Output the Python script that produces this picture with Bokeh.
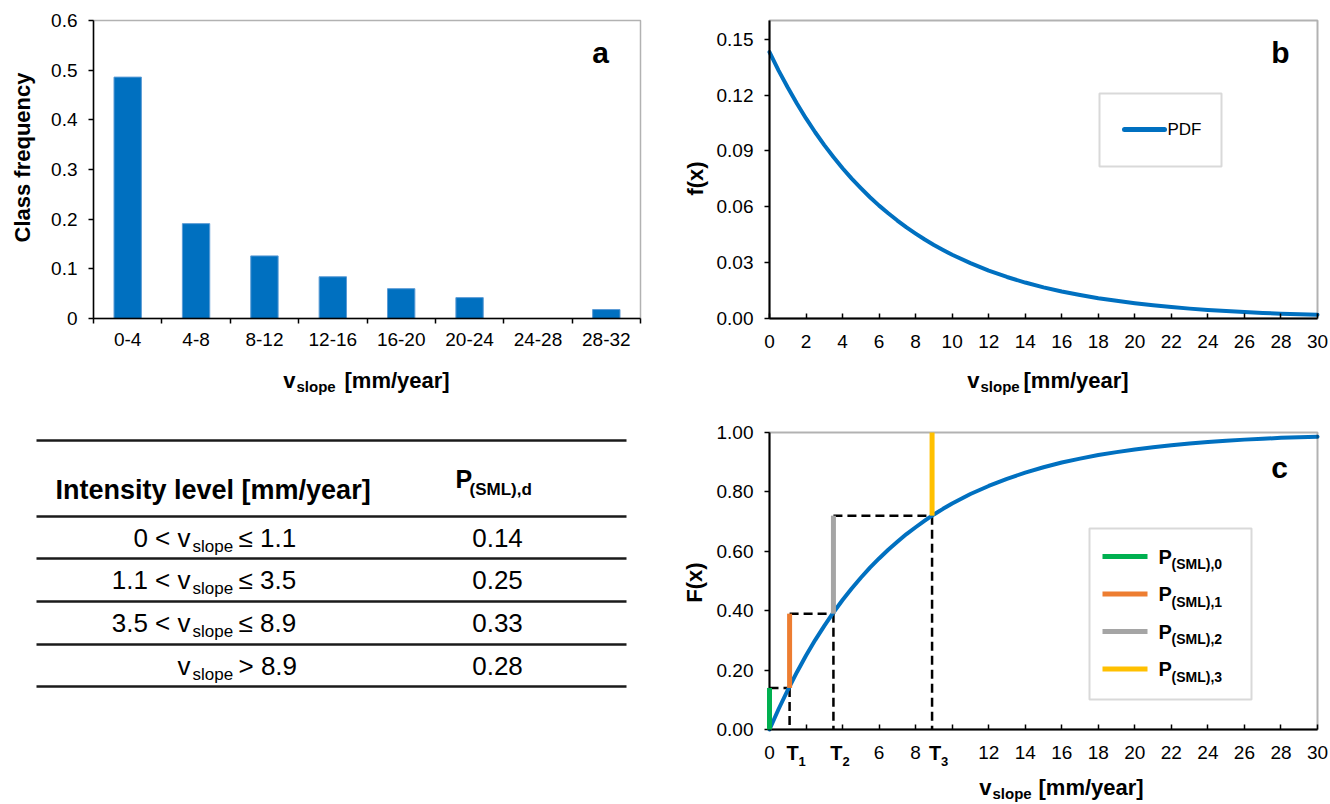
import numpy as np
from bokeh.plotting import figure
from bokeh.layouts import column, row
from bokeh.models import (ColumnDataSource, Range1d, FixedTicker, NumeralTickFormatter,
                          CustomJSTickFormatter, Label, BoxAnnotation)
from bokeh.core.properties import value
from bokeh.embed import file_html
from bokeh.resources import INLINE

FONT = "Liberation Sans"

# ------------------------------------------------------------------ data
classes = ["0-4", "4-8", "8-12", "12-16", "16-20", "20-24", "24-28", "28-32"]
class_freq = [0.486, 0.191, 0.126, 0.084, 0.060, 0.042, 0.0, 0.018]

v_grid = [0, 0.5, 1, 1.5, 2, 2.5, 3, 3.5, 4, 4.5, 5, 5.5, 6, 6.5, 7, 7.5, 8, 8.5,
          9, 9.5, 10, 11, 12, 13, 14, 15, 16, 17, 18, 19, 20, 21, 22, 23, 24, 25,
          26, 27, 28, 29, 30]
pdf_vals = [0.1430, 0.1331, 0.1240, 0.1154, 0.1074, 0.1000, 0.0931, 0.0867, 0.0807,
            0.0751, 0.0700, 0.0651, 0.0606, 0.0565, 0.0526, 0.0489, 0.0456, 0.0424,
            0.0395, 0.0368, 0.0342, 0.0297, 0.0257, 0.0223, 0.0193, 0.0167, 0.0145,
            0.0126, 0.0109, 0.0095, 0.0082, 0.0071, 0.0062, 0.0053, 0.0046, 0.0040,
            0.0035, 0.0030, 0.0026, 0.0023, 0.0020]
cdf_vals = [0.0, 0.069, 0.133, 0.193, 0.249, 0.301, 0.349, 0.394, 0.436, 0.475,
            0.511, 0.545, 0.576, 0.605, 0.632, 0.658, 0.681, 0.703, 0.724, 0.743,
            0.761, 0.793, 0.820, 0.844, 0.865, 0.883, 0.899, 0.912, 0.924, 0.934,
            0.943, 0.950, 0.957, 0.963, 0.968, 0.972, 0.976, 0.979, 0.982, 0.984,
            0.986]

level_lo = ["0 <", "1.1 <", "3.5 <", ""]
level_hi = ["\u2264 1.1", "\u2264 3.5", "\u2264 8.9", "> 8.9"]
p_sml = [0.14, 0.25, 0.33, 0.28]
thresholds = [0.0, 1.1, 3.5, 8.9]
threshold_names = ["", "1", "2", "3"]
p_colors = ["#00B050", "#ED7D31", "#A5A5A5", "#FFC000"]
p_subs = ["(SML),0", "(SML),1", "(SML),2", "(SML),3"]

freq_ticks = [0, 0.1, 0.2, 0.3, 0.4, 0.5, 0.6]
pdf_yticks = [0, 0.03, 0.06, 0.09, 0.12, 0.15]
cdf_yticks = [0, 0.2, 0.4, 0.6, 0.8, 1.0]
v_ticks = list(range(0, 31, 2))
cdf_hidden_ticks = [2, 4, 10]

BLUE = "#0070C0"
TICK_FS = "19px"


# ------------------------------------------------------------------ helpers
class Panel:
    """A figure whose frame fills the whole canvas; the plot area is the
    rectangle (left, top, w, h) in page pixels showing ranges xr, yr."""

    def __init__(self, fx, fy, W, H, left, top, w, h, xr, yr):
        self.fx, self.fy, self.W, self.H = fx, fy, W, H
        self.left, self.top, self.w, self.h = left, top, w, h
        self.xr, self.yr = xr, yr

    def x(self, px):
        return self.xr[0] + (px - self.left) / self.w * (self.xr[1] - self.xr[0])

    def y(self, py):
        return self.yr[0] + (self.top + self.h - py) / self.h * (self.yr[1] - self.yr[0])

    def make(self, box_width=2.0):
        p = figure(width=self.W, height=self.H,
                   x_range=Range1d(self.x(self.fx), self.x(self.fx + self.W)),
                   y_range=Range1d(self.y(self.fy + self.H), self.y(self.fy)),
                   output_backend="svg", toolbar_location=None,
                   min_border_left=0, min_border_right=0, min_border_top=0,
                   min_border_bottom=0)
        p.outline_line_color = None
        p.xgrid.visible = False
        p.ygrid.visible = False
        for ax in (p.xaxis[0], p.yaxis[0]):
            ax.axis_line_color = "black"
            ax.axis_line_width = box_width
            ax.major_tick_line_color = "black"
            ax.major_tick_line_width = 1.5
            ax.minor_tick_line_color = None
            ax.major_label_text_font = FONT
            ax.major_label_text_font_size = TICK_FS
            ax.major_label_text_color = "black"
        xa, ya = p.xaxis[0], p.yaxis[0]
        xa.fixed_location = self.yr[0]
        xa.bounds = tuple(self.xr)
        ya.fixed_location = self.xr[0]
        ya.bounds = tuple(self.yr)
        ya.major_tick_out = 5
        ya.major_tick_in = 0
        ya.major_label_standoff = 11
        p.add_layout(BoxAnnotation(left=self.xr[0], right=self.xr[1],
                                   bottom=self.yr[0], top=self.yr[1],
                                   fill_color=None, line_color="black",
                                   line_width=box_width))
        return p


def lab(p, x, y, text, size, bold=False, align="left", angle=0.0):
    # y is the vertical middle of the text
    p.add_layout(Label(x=x, y=y, text=text, text_font=FONT,
                       text_font_size=f"{size}px",
                       text_font_style="bold" if bold else "normal",
                       text_align=align, text_baseline="middle", angle=angle,
                       text_color="black"))


def v_title(p, P, x_v_right, x_unit_left, mid):
    lab(p, P.x(x_v_right), P.y(mid), "v", 22, bold=True, align="right")
    lab(p, P.x(x_v_right + 1), P.y(mid + 6), "slope", 15, bold=True)
    lab(p, P.x(x_unit_left), P.y(mid), "[mm/year]", 22, bold=True)


def y_title(p, P, text, cx, cy):
    lab(p, P.x(cx), P.y(cy), text, 22, bold=True, align="center", angle=np.pi / 2)


# ------------------------------------------------------------------ panel a
PA = Panel(0, 0, 660, 398, 93, 20, 547, 298, (0, len(classes)), (0, 0.6))
pa = PA.make(box_width=1.5)
centers = [i + 0.5 for i in range(len(classes))]
pa.vbar(x=centers, top=class_freq, width=0.4, fill_color=BLUE,
        line_color="#5b9bd5", line_width=1)
xa = pa.xaxis[0]
xa.ticker = FixedTicker(ticks=centers, minor_ticks=list(range(len(classes) + 1)))
xa.major_label_overrides = {c: name for c, name in zip(centers, classes)}
xa.major_tick_out = 0
xa.major_tick_in = 0
xa.minor_tick_line_color = "black"
xa.minor_tick_line_width = 1.5
xa.minor_tick_out = 5
xa.minor_tick_in = 0
xa.major_label_standoff = 9
ya = pa.yaxis[0]
ya.ticker = FixedTicker(ticks=freq_ticks)
ya.formatter = CustomJSTickFormatter(code="return tick == 0 ? '0' : tick.toFixed(1);")
y_title(pa, PA, "Class frequency", 22, 157)
v_title(pa, PA, 295, 344, 380)
lab(pa, PA.x(600), PA.y(52), "a", 30, bold=True, align="center")

# ------------------------------------------------------------------ panel b
PB = Panel(660, 0, 668, 398, 769, 20, 548, 298, (0, 30), (0, 0.16))
pb = PB.make()
pb.line(v_grid, pdf_vals, line_color=BLUE, line_width=4, line_cap="round",
        line_join="round")
xb = pb.xaxis[0]
xb.ticker = FixedTicker(ticks=v_ticks)
xb.major_tick_in = 5
xb.major_tick_out = 0
xb.major_label_standoff = 16
yb = pb.yaxis[0]
yb.ticker = FixedTicker(ticks=pdf_yticks)
yb.formatter = NumeralTickFormatter(format="0.00")
y_title(pb, PB, "f(x)", 695, 178)
v_title(pb, PB, 979, 1023, 380)
lab(pb, PB.x(1280), PB.y(52), "b", 30, bold=True, align="center")
pb.add_layout(BoxAnnotation(left=PB.x(1099), right=PB.x(1221), top=PB.y(93),
                            bottom=PB.y(166), fill_color=None,
                            line_color="#808080", line_width=2))
pb.segment(x0=[PB.x(1124)], y0=[PB.y(129)], x1=[PB.x(1164)], y1=[PB.y(129)],
           line_color=BLUE, line_width=5, line_cap="round")
lab(pb, PB.x(1167), PB.y(129), "PDF", 17)

# ------------------------------------------------------------------ panel c
PC = Panel(660, 398, 668, 404, 769, 432, 548, 297, (0, 30), (0, 1.0))
pc = PC.make()
cum = [round(c, 4) for c in np.cumsum(p_sml)]
hx0 = thresholds[:-1]
hx1 = thresholds[1:]
hy = cum[:-1]
pc.segment(x0=hx0, y0=hy, x1=hx1, y1=hy, line_color="black", line_width=2.5,
           line_dash="9 5")
pc.segment(x0=hx1, y0=hy, x1=hx1, y1=[0] * len(hy), line_color="black",
           line_width=2.5, line_dash="9 5")
pc.line(v_grid, cdf_vals, line_color=BLUE, line_width=4, line_cap="round",
        line_join="round")
pc.segment(x0=thresholds, y0=[0.0] + cum[:-1], x1=thresholds, y1=cum,
           line_color=p_colors, line_width=5, level="overlay")
xc = pc.xaxis[0]
xc.ticker = FixedTicker(ticks=v_ticks)
xc.major_label_overrides = {t: "" for t in cdf_hidden_ticks}
xc.major_tick_in = 5
xc.major_tick_out = 0
xc.major_label_standoff = 16
yc = pc.yaxis[0]
yc.ticker = FixedTicker(ticks=cdf_yticks)
yc.formatter = NumeralTickFormatter(format="0.00")
y_title(pc, PC, "F(x)", 694, 582)
v_title(pc, PC, 991, 1038, 787)
lab(pc, PC.x(1279), PC.y(467), "c", 30, bold=True, align="center")
px_per_unit = PC.w / (PC.xr[1] - PC.xr[0])
for t, name in zip(thresholds[1:], threshold_names[1:]):
    lab(pc, t + 3 / px_per_unit, PC.y(752), "T", 20, bold=True, align="center")
    lab(pc, t + 9 / px_per_unit, PC.y(760.5), name, 13, bold=True)
pc.add_layout(BoxAnnotation(left=PC.x(1089), right=PC.x(1251), top=PC.y(528),
                            bottom=PC.y(699), fill_color=None,
                            line_color="#808080", line_width=2))
rows_y = [556, 593.5, 631, 668.5]
pc.segment(x0=[PC.x(1102)] * 4, y0=[PC.y(r) for r in rows_y],
           x1=[PC.x(1147)] * 4, y1=[PC.y(r) for r in rows_y],
           line_color=p_colors, line_width=5)
for r, sub in zip(rows_y, p_subs):
    lab(pc, PC.x(1158), PC.y(r), "P", 20, bold=True)
    lab(pc, PC.x(1171), PC.y(r + 7.5), sub, 14, bold=True)

# ------------------------------------------------------------------ table
# full-frame figure; data units = page pixels (y grows downward)
pt = figure(width=660, height=404, x_range=Range1d(0, 660), y_range=Range1d(802, 398),
            output_backend="svg", toolbar_location=None,
            x_axis_location=None, y_axis_location=None,
            min_border_left=0, min_border_right=0, min_border_top=0,
            min_border_bottom=0)
pt.outline_line_color = None
pt.xgrid.visible = False
pt.ygrid.visible = False
rules = [440, 516, 558, 601, 644, 686]
pt.segment(x0=[36] * len(rules), y0=rules, x1=[626] * len(rules), y1=rules,
           line_color="#1a1a1a", line_width=2.5)
pt.text(x=[55], y=[489.5], text=["Intensity level [mm/year]"], text_font=value(FONT),
        text_font_size="27px", text_font_style="bold", text_align="left",
        text_baseline="middle")
pt.text(x=[455], y=[478], text=["P"], text_font=value(FONT), text_font_size="25px",
        text_font_style="bold", text_align="left", text_baseline="middle")
pt.text(x=[469], y=[489], text=["(SML),d"], text_font=value(FONT), text_font_size="17px",
        text_font_style="bold", text_align="left", text_baseline="middle")
row_c = [(rules[i + 1] + rules[i + 2]) / 2 for i in range(len(p_sml))]
tsrc = ColumnDataSource(dict(
    ym=row_c,
    ys=[c + 8.5 for c in row_c],
    lo=[(lo + " v").strip() for lo in level_lo],
    sub=["slope"] * len(row_c),
    hi=level_hi,
    val=[f"{v:.2f}" for v in p_sml],
))
pt.text(x=190, y="ym", text="lo", source=tsrc, text_font=value(FONT),
        text_font_size="26px", text_align="right", text_baseline="middle")
pt.text(x=192, y="ys", text="sub", source=tsrc, text_font=value(FONT),
        text_font_size="17px", text_align="left", text_baseline="middle")
pt.text(x=238, y="ym", text="hi", source=tsrc, text_font=value(FONT),
        text_font_size="26px", text_align="left", text_baseline="middle")
pt.text(x=497, y="ym", text="val", source=tsrc, text_font=value(FONT),
        text_font_size="26px", text_align="center", text_baseline="middle")

layout = column(row(pa, pb), row(pt, pc))
open("out.html", "w").write(file_html(layout, INLINE))
